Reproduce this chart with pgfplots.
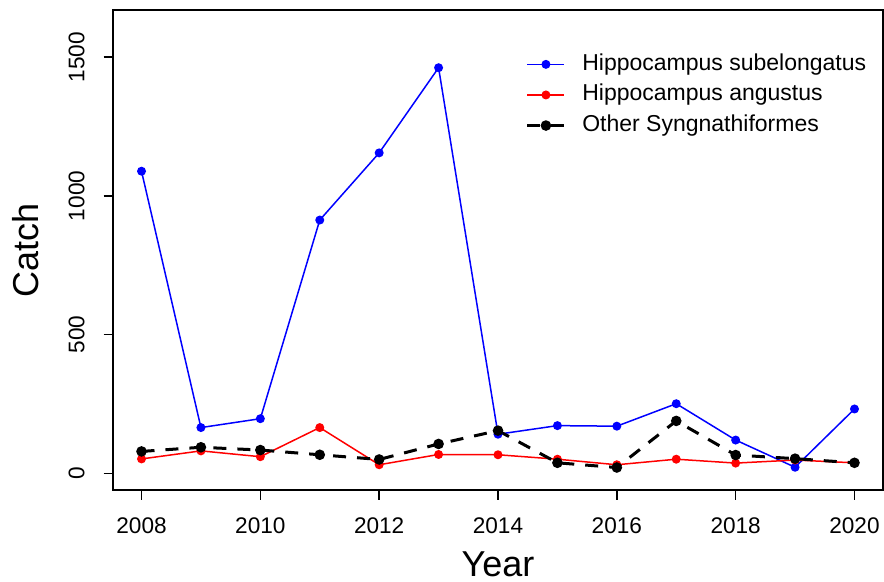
\documentclass[border=0pt]{standalone}
\usepackage{fontspec}
\setmainfont{Liberation Sans}
\usepackage{pgfplots}
\pgfplotsset{compat=1.18}
\begin{document}
\begin{tikzpicture}
\useasboundingbox (-56.5bp,-46bp) rectangle (385.5bp,245bp);
\begin{axis}[
  at={(0,0)}, anchor=south west, scale only axis,
  width=385bp, height=240bp,
  xmin=2007.52, xmax=2020.48, ymin=-60, ymax=1670,
  xtick={2008,2010,2012,2014,2016,2018,2020},
  ytick={0,500,1000,1500},
  tick align=outside, tick pos=left, major tick length=4.75bp,
  axis line style={line width=0.75bp},
  tick style={line width=0.75bp, black},
  /pgf/number format/assume math mode=true,
  /pgf/number format/1000 sep={},
  tick label style={font=\fontsize{11.3bp}{13bp}\selectfont},
  xticklabel style={anchor=north, inner ysep=8.9bp},
  yticklabel style={rotate=90, anchor=south, inner ysep=9.25bp},
  every axis x label/.style={at={(axis description cs:0.5,0)}, yshift=-37.2bp, anchor=center, font=\fontsize{18bp}{20bp}\selectfont},
  every axis y label/.style={at={(axis description cs:0,0.5)}, xshift=-43.5bp, rotate=90, anchor=center, font=\fontsize{18bp}{20bp}\selectfont},
  xlabel={Year}, ylabel={Catch},
  legend style={draw=none, fill=none, at={(0.528,0.823)}, anchor=west,
    font=\fontsize{11.5bp}{13bp}\selectfont, column sep=8.2bp, row sep=4.3bp,
    nodes={inner sep=0pt, text height=8.5bp, text depth=2.5bp},
    cells={anchor=west}},
  legend image code/.code={\draw[mark repeat=2,mark phase=2,#1] plot coordinates {(0bp,0bp) (9.25bp,0bp) (18.5bp,0bp)};},
  clip=false,
]
\addplot[color=blue, line width=0.75bp, mark=*, mark size=1.85bp, mark options={solid}] coordinates {
(2008,1089) (2009,165) (2010,197) (2011,913) (2012,1155) (2013,1462) (2014,141)
(2015,172) (2016,170) (2017,251) (2018,120) (2019,22) (2020,232)};
\addlegendentry{Hippocampus subelongatus}
\addplot[color=red, line width=0.75bp, mark=*, mark size=1.85bp, mark options={solid}] coordinates {
(2008,52) (2009,81) (2010,60) (2011,165) (2012,31) (2013,68) (2014,67)
(2015,51) (2016,31) (2017,51) (2018,37) (2019,48) (2020,38)};
\addlegendentry{Hippocampus angustus}
\addplot[color=black, line width=1.5bp, dash pattern=on 6.5bp off 5.5bp, mark=*, mark size=1.85bp, mark options={solid}] coordinates {
(2008,79) (2009,94) (2010,84) (2011,67) (2012,50) (2013,106) (2014,154)
(2015,38) (2016,21) (2017,189) (2018,66) (2019,53) (2020,38)};
\addlegendentry{Other Syngnathiformes}
\end{axis}
\end{tikzpicture}
\end{document}
